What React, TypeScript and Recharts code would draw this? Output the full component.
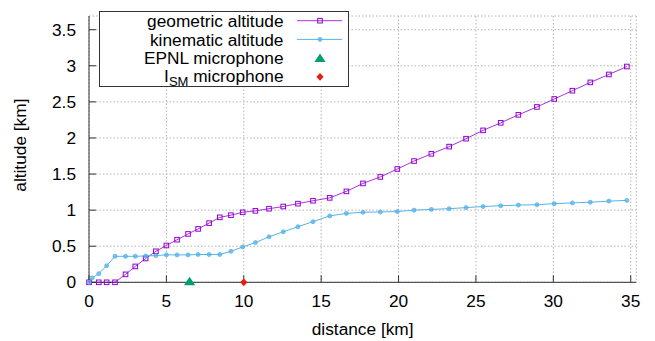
import React from 'react';
import {
  ComposedChart,
  Line,
  Scatter,
  XAxis,
  YAxis,
  CartesianGrid,
  Legend,
  Label,
} from 'recharts';

// ---- data ----
const geoX = [0, 0.63, 1.14, 1.68, 2.36, 2.99, 3.66, 4.32, 5.0, 5.69, 6.4, 7.05, 7.76, 8.45, 9.17, 9.93, 10.75, 11.63, 12.55, 13.5, 14.47, 15.55, 16.63, 17.7, 18.82, 19.92, 21.0, 22.12, 23.27, 24.36, 25.46, 26.6, 27.74, 28.94, 30.06, 31.23, 32.39, 33.59, 34.75];
const geoY = [0, 0, 0, 0, 0.11, 0.22, 0.33, 0.43, 0.51, 0.59, 0.67, 0.74, 0.82, 0.9, 0.93, 0.97, 0.99, 1.02, 1.05, 1.09, 1.13, 1.17, 1.26, 1.37, 1.46, 1.57, 1.68, 1.78, 1.88, 1.99, 2.105, 2.21, 2.32, 2.43, 2.54, 2.655, 2.77, 2.88, 2.99];

const kinX = [0, 0.2, 0.63, 1.14, 1.68, 2.36, 2.99, 3.66, 4.32, 5.0, 5.69, 6.4, 7.05, 7.76, 8.45, 9.17, 9.93, 10.75, 11.63, 12.55, 13.5, 14.47, 15.55, 16.63, 17.7, 18.82, 19.92, 21.0, 22.12, 23.27, 24.36, 25.46, 26.6, 27.74, 28.94, 30.06, 31.23, 32.39, 33.59, 34.75];
const kinY = [0, 0.06, 0.12, 0.23, 0.36, 0.36, 0.36, 0.365, 0.37, 0.38, 0.38, 0.38, 0.385, 0.385, 0.385, 0.43, 0.49, 0.55, 0.63, 0.7, 0.77, 0.84, 0.92, 0.955, 0.97, 0.975, 0.98, 1.0, 1.01, 1.02, 1.035, 1.05, 1.06, 1.07, 1.075, 1.09, 1.1, 1.11, 1.125, 1.135];

const epnlX = [6.5];
const epnlY = [0];
const ismX = [10.0];
const ismY = [0];

const xTicks = [0, 5, 10, 15, 20, 25, 30, 35];
const yTicks = [0, 0.5, 1, 1.5, 2, 2.5, 3, 3.5];
const xDomain = [0, 35.36];
const yDomain = [0, 3.69];

const legendLabels = ['geometric altitude', 'kinematic altitude', 'EPNL microphone', 'microphone'];

const geoData = geoX.map((x, i) => ({ x, y: geoY[i] }));
const kinData = kinX.map((x, i) => ({ x, y: kinY[i] }));
const epnlData = epnlX.map((x, i) => ({ x, y: epnlY[i] }));
const ismData = ismX.map((x, i) => ({ x, y: ismY[i] }));

// ---- styles ----
const FONT = '"Liberation Sans", Arial, sans-serif';
const FS = 17.3;
const PURPLE = '#9400D3';
const BLUE = '#56B4E9';
const GREEN = '#009E73';
const RED = '#E51E10';
const FRAME = '#333333';

const SquareDot = (props: any) => {
  const { cx, cy } = props;
  if (cx == null || cy == null) return null;
  return <rect x={cx - 2.3} y={cy - 2.3} width={4.6} height={4.6} fill="none" stroke={PURPLE} strokeWidth={1} />;
};

const CircleDot = (props: any) => {
  const { cx, cy } = props;
  if (cx == null || cy == null) return null;
  return <circle cx={cx} cy={cy} r={2} fill={BLUE} fillOpacity={0.75} stroke={BLUE} strokeWidth={0.8} />;
};

const triPath = (cx: number, cy: number) =>
  `M${cx},${cy - 5.6} L${cx + 5.6},${cy + 2.9} L${cx - 5.6},${cy + 2.9} Z`;
const diaPath = (cx: number, cy: number) =>
  `M${cx},${cy - 3.9} L${cx + 3.6},${cy} L${cx},${cy + 3.9} L${cx - 3.6},${cy} Z`;

const TriangleShape = (props: any) => {
  const { cx, cy } = props;
  if (cx == null || cy == null) return null;
  return <path d={triPath(cx, cy)} fill={GREEN} />;
};

const DiamondShape = (props: any) => {
  const { cx, cy } = props;
  if (cx == null || cy == null) return null;
  return <path d={diaPath(cx, cy)} fill={RED} />;
};

const LegendBox = () => {
  const W = 250;
  const H = 76;
  const textX = 184.5;
  const rows = [9.7, 28.4, 47.2, 65.8];
  const s0 = 198;
  const s1 = 243;
  const mx = 221;
  const textStyle = { fontFamily: FONT, fontSize: FS, fill: '#000' } as any;
  return (
    <svg width={W} height={H} style={{ display: 'block', overflow: 'visible' }}>
      <rect x={0.5} y={0.5} width={W - 1} height={H - 1} fill="#fff" stroke={FRAME} strokeWidth={1} />
      <text x={textX} y={rows[0]} dy="0.36em" textAnchor="end" style={textStyle}>{legendLabels[0]}</text>
      <text x={textX} y={rows[1]} dy="0.36em" textAnchor="end" style={textStyle}>{legendLabels[1]}</text>
      <text x={textX} y={rows[2]} dy="0.36em" textAnchor="end" style={textStyle}>{legendLabels[2]}</text>
      <text x={textX} y={rows[3] - 1} dy="0.36em" textAnchor="end" style={textStyle}>
        I<tspan dy="3.5" fontSize={13}>SM</tspan><tspan dy="-3.5"> {legendLabels[3]}</tspan>
      </text>
      <line x1={s0} x2={s1} y1={rows[0]} y2={rows[0]} stroke={PURPLE} strokeWidth={1} strokeOpacity={0.8} />
      <SquareDot cx={mx} cy={rows[0]} />
      <line x1={s0} x2={s1} y1={rows[1]} y2={rows[1]} stroke={BLUE} strokeWidth={1} />
      <CircleDot cx={mx} cy={rows[1]} />
      <path d={triPath(mx, rows[2] + 1)} fill={GREEN} />
      <path d={diaPath(mx, rows[3])} fill={RED} />
    </svg>
  );
};

const YLabel = (props: any) => {
  const vb = props.viewBox || { y: 16, height: 266 };
  const cx = 26;
  const cy = vb.y + vb.height / 2 - 4;
  return (
    <text
      x={cx}
      y={cy}
      transform={`rotate(-90, ${cx}, ${cy})`}
      textAnchor="middle"
      style={{ fontFamily: FONT, fontSize: FS, fill: '#000' }}
    >
      altitude [km]
    </text>
  );
};

const tickStyle = { fontSize: FS, fill: '#000', fontFamily: FONT };

export default function App() {
  return (
    <div style={{ position: 'absolute', left: 0, top: 0, width: 655, height: 341, background: '#fff' }}>
      <ComposedChart
        width={655}
        height={341}
        margin={{ top: 16, right: 18.7, bottom: 28.7, left: 0 }}
        style={{ fontFamily: FONT }}
      >
        <CartesianGrid stroke="#b4b4b4" strokeDasharray="1.5 2" />
        <XAxis
          xAxisId={0}
          type="number"
          dataKey="x"
          domain={xDomain}
          ticks={xTicks}
          interval={0}
          height={30}
          tickSize={-7}
          tickMargin={19}
          axisLine={{ stroke: FRAME }}
          tickLine={{ stroke: FRAME }}
          tick={tickStyle}
        >
          <Label value="distance [km]" position="bottom" offset={10} style={{ fontFamily: FONT, fontSize: FS, fill: '#000' }} />
        </XAxis>
        <XAxis
          xAxisId="top"
          orientation="top"
          type="number"
          dataKey="x"
          domain={xDomain}
          ticks={xTicks}
          interval={0}
          height={0}
          tickSize={-7}
          tickFormatter={() => ''}
          axisLine={{ stroke: FRAME }}
          tickLine={{ stroke: FRAME }}
        />
        <YAxis
          yAxisId={0}
          type="number"
          dataKey="y"
          domain={yDomain}
          ticks={yTicks}
          interval={0}
          width={89}
          tickSize={-7}
          tickMargin={20}
          axisLine={{ stroke: FRAME }}
          tickLine={{ stroke: FRAME }}
          tick={tickStyle}
        >
          <Label content={<YLabel />} />
        </YAxis>
        <YAxis
          yAxisId="right"
          orientation="right"
          type="number"
          dataKey="y"
          domain={yDomain}
          ticks={yTicks}
          interval={0}
          width={0}
          tickSize={-7}
          tickFormatter={() => ''}
          axisLine={{ stroke: FRAME }}
          tickLine={{ stroke: FRAME }}
        />
        <Line
          data={geoData}
          dataKey="y"
          stroke={PURPLE}
          strokeOpacity={0.8}
          strokeWidth={1}
          dot={<SquareDot />}
          activeDot={false}
          isAnimationActive={false}
        />
        <Line
          data={kinData}
          dataKey="y"
          stroke={BLUE}
          strokeWidth={1}
          dot={<CircleDot />}
          activeDot={false}
          isAnimationActive={false}
        />
        <Scatter data={epnlData} dataKey="y" shape={<TriangleShape />} isAnimationActive={false} />
        <Scatter data={ismData} dataKey="y" shape={<DiamondShape />} isAnimationActive={false} />
        <Legend
          layout="vertical"
          align="center"
          verticalAlign="middle"
          wrapperStyle={{ position: 'absolute', left: 99, top: 11, width: 250, height: 76 }}
          content={() => <LegendBox />}
        />
      </ComposedChart>
    </div>
  );
}
